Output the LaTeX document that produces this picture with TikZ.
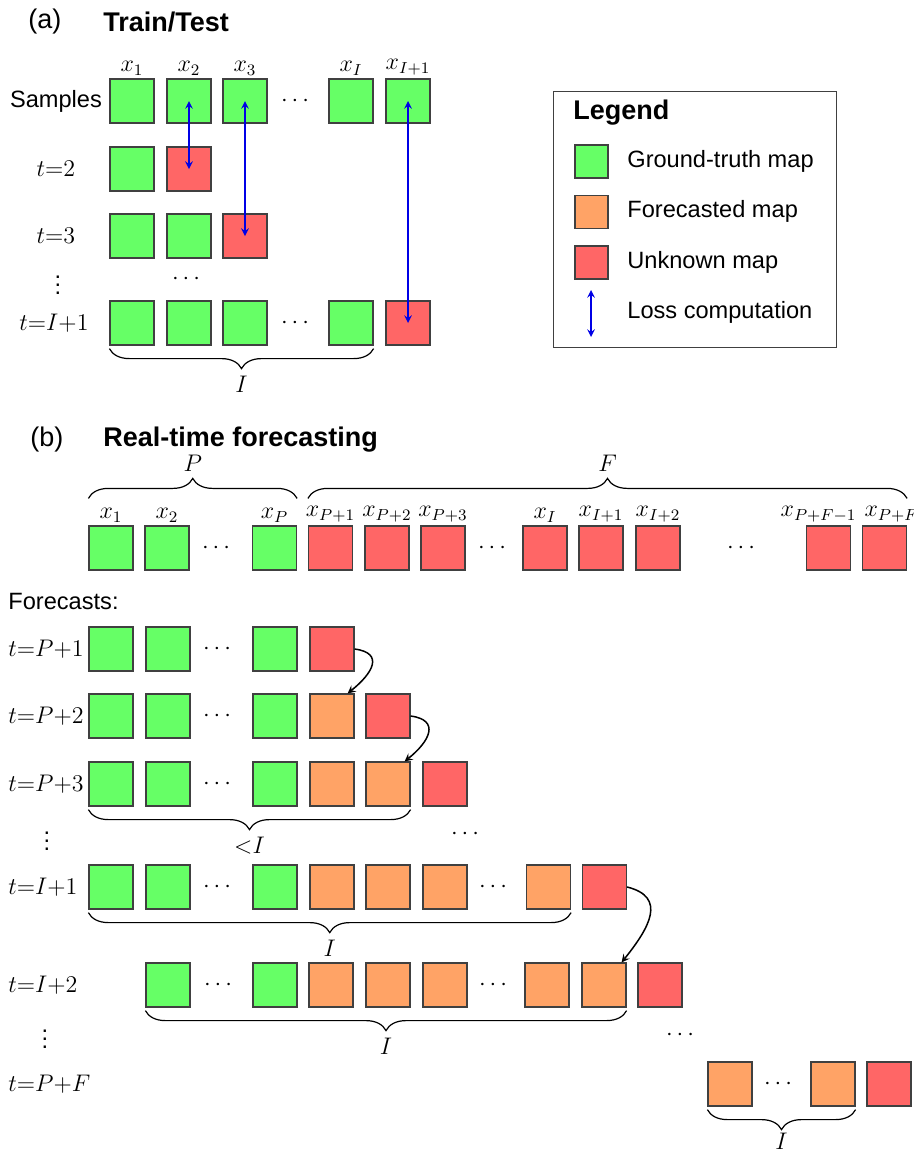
\documentclass[tikz,border=0pt]{standalone}
\usepackage[no-math]{fontspec}
\setmainfont{Liberation Sans}
\usepackage{amsmath}
\usetikzlibrary{decorations.pathreplacing,arrows}
\definecolor{gtgreen}{RGB}{102,255,102}
\definecolor{fcorange}{RGB}{255,163,102}
\definecolor{ukred}{RGB}{255,102,102}
\definecolor{edgegray}{RGB}{64,64,64}
\definecolor{lossblue}{RGB}{0,0,230}
\begin{document}
\begin{tikzpicture}[x=0.5pt,y=-0.5pt,font=\fontsize{11.8}{14}\selectfont,
	sq/.style={draw=edgegray,line width=0.6pt,minimum size=22pt,inner sep=0pt},
	gt/.style={sq,fill=gtgreen},fc/.style={sq,fill=fcorange},uk/.style={sq,fill=ukred},
	key/.style={draw=edgegray,line width=0.6pt,minimum size=16.5pt,inner sep=0pt},
	txt/.style={inner sep=0pt},
	ttl/.style={inner sep=0pt,font=\fontsize{13.5}{16}\selectfont\bfseries},
	loss/.style={lossblue,line width=0.7pt,stealth-stealth},
	flow/.style={black,line width=0.75pt,-stealth},
	brc/.style={decorate,decoration={brace,amplitude=10pt},line width=0.6pt},
	brcb/.style={decorate,decoration={brace,mirror,amplitude=10pt},line width=0.6pt},
	every label/.style={inner sep=1.5pt}]
\useasboundingbox (0,0) rectangle (914,1152);
\node(TA) [txt,anchor=west,font=\fontsize{13.5}{16}\selectfont] at (28,22) {(a)};
\node(TTA) [ttl,anchor=west] at (103,22) {Train/Test};
\node(LS) [txt] at (56,101) {Samples};
\node(L2) [txt] at (56,169) {$t{=}2$};
\node(L3) [txt] at (56,236) {$t{=}3$};
\node(LV) [txt] at (58,279) {$\vdots$};
\node(LI) [txt] at (54,323) {$t{=}I{+}1$};
\node(S1) [gt,label=above:$x_1$] at (132,101) {};
\node(S2) [gt,label=above:$x_2$] at (189,101) {};
\node(S3) [gt,label=above:$x_3$] at (245,101) {};
\node(SD) [txt] at (297,101) {$\cdots$};
\node(SI) [gt,label=above:$x_I$] at (351,101) {};
\node(SJ) [gt,label=above:$x_{I+1}$] at (408,101) {};
\node(R21) [gt] at (132,169) {};
\node(R22) [uk] at (189,169) {};
\node(R31) [gt] at (132,236) {};
\node(R32) [gt] at (189,236) {};
\node(R33) [uk] at (245,236) {};
\node(RD) [txt] at (188,279) {$\cdots$};
\node(RI1) [gt] at (132,323) {};
\node(RI2) [gt] at (189,323) {};
\node(RI3) [gt] at (245,323) {};
\node(RID) [txt] at (297,323) {$\cdots$};
\node(RII) [gt] at (351,323) {};
\node(RIJ) [uk] at (408,323) {};
\draw[loss] (S2.center) -- (R22.center);
\draw[loss] (S3.center) -- (R33.center);
\draw[loss] (SJ.center) -- (RIJ.center);
\draw[brcb] ([yshift=-1.5pt]RI1.south west) -- ([yshift=-1.5pt]RII.south east) node(BA) [txt,midway,below=13.5pt] {$I$};
\node(LEG) [draw=edgegray,line width=0.6pt,minimum width=141.5pt,minimum height=128pt,inner sep=0pt,anchor=north west] at (553,91) {};
\node(LT) [ttl,anchor=west] at (573,113) {Legend};
\node(K1) [key,fill=gtgreen] at (591.5,161.5) {};
\node(K1T) [txt,anchor=west] at (627,161) {Ground-truth map};
\node(K2) [key,fill=fcorange] at (591.5,212) {};
\node(K2T) [txt,anchor=west] at (627,211) {Forecasted map};
\node(K3) [key,fill=ukred] at (591.5,262.5) {};
\node(K3T) [txt,anchor=west] at (627,262) {Unknown map};
\coordinate(K4A) at (591,290);
\coordinate(K4B) at (591,337);
\draw[loss] (K4A) -- (K4B);
\node(K4T) [txt,anchor=west] at (627,312) {Loss computation};
\node(TB) [txt,anchor=west,font=\fontsize{13.5}{16}\selectfont] at (30,440) {(b)};
\node(TTB) [ttl,anchor=west] at (103,440) {Real-time forecasting};
\node(X1) [gt,label=above:$x_1$] at (111,548) {};
\node(X2) [gt,label=above:$x_2$] at (167,548) {};
\node(XD) [txt] at (218,548) {$\cdots$};
\node(XP) [gt,label=above:$x_P$] at (274.5,548) {};
\node(XA) [uk,label=above:$x_{P+1}$] at (330.5,548) {};
\node(XB) [uk,label=above:$x_{P+2}$] at (387,548) {};
\node(XC) [uk,label=above:$x_{P+3}$] at (443,548) {};
\node(XE) [txt] at (494,548) {$\cdots$};
\node(XI) [uk,label=above:$x_I$] at (545,548) {};
\node(XJ) [uk,label=above:$x_{I+1}$] at (601,548) {};
\node(XK) [uk,label=above:$x_{I+2}$] at (658,548) {};
\node(XF) [txt] at (743,548) {$\cdots$};
\node(XM) [uk,label={[xshift=-5pt]above:$x_{P+F-1}$}] at (828.5,548) {};
\node(XN) [uk,label={[xshift=3.5pt]above:$x_{P+F}$}] at (884.5,548) {};
\draw[brc] ([yshift=13.5pt]X1.north west) -- ([yshift=13.5pt]XP.north east) node(BP) [txt,midway,above=13pt] {$P$};
\draw[brc] ([yshift=13.5pt]XA.north west) -- ([yshift=13.5pt]XN.north east) node(BF) [txt,midway,above=13pt] {$F$};
\node(FC) [txt,anchor=west] at (8,601) {Forecasts:};
\node(M1) [txt,anchor=west] at (8,649) {$t{=}P{+}1$};
\node(M2) [txt,anchor=west] at (8,716) {$t{=}P{+}2$};
\node(M3) [txt,anchor=west] at (8,784) {$t{=}P{+}3$};
\node(MV1) [txt] at (47,835) {$\vdots$};
\node(M4) [txt,anchor=west] at (8,887) {$t{=}I{+}1$};
\node(M5) [txt,anchor=west] at (8,985) {$t{=}I{+}2$};
\node(MV2) [txt] at (45,1033) {$\vdots$};
\node(M6) [txt,anchor=west] at (8,1084) {$t{=}P{+}F$};
\node(F1a) [gt] at (111,649) {};
\node(F1b) [gt] at (168,649) {};
\node(F1D) [txt] at (219,649) {$\cdots$};
\node(F1c) [gt] at (275,649) {};
\node(F1d) [uk] at (332,649) {};
\node(F2a) [gt] at (111,716) {};
\node(F2b) [gt] at (168,716) {};
\node(F2D) [txt] at (219,716) {$\cdots$};
\node(F2c) [gt] at (275,716) {};
\node(F2d) [fc] at (332,716) {};
\node(F2e) [uk] at (388,716) {};
\node(F3a) [gt] at (111,784) {};
\node(F3b) [gt] at (168,784) {};
\node(F3D) [txt] at (219,784) {$\cdots$};
\node(F3c) [gt] at (275,784) {};
\node(F3d) [fc] at (332,784) {};
\node(F3e) [fc] at (388,784) {};
\node(F3f) [uk] at (445,784) {};
\node(G1) [txt] at (467,834) {$\cdots$};
\node(F4a) [gt] at (111,887) {};
\node(F4b) [gt] at (168,887) {};
\node(F4D) [txt] at (219,887) {$\cdots$};
\node(F4c) [gt] at (275,887) {};
\node(F4d) [fc] at (332,887) {};
\node(F4e) [fc] at (388,887) {};
\node(F4f) [fc] at (445,887) {};
\node(F4E) [txt] at (495,887) {$\cdots$};
\node(F4g) [fc] at (548.5,887) {};
\node(F4h) [uk] at (604.5,887) {};
\node(F5a) [gt] at (168,985) {};
\node(F5D) [txt] at (220,985) {$\cdots$};
\node(F5b) [gt] at (275,985) {};
\node(F5c) [fc] at (331,985) {};
\node(F5d) [fc] at (388,985) {};
\node(F5e) [fc] at (445,985) {};
\node(F5E) [txt] at (495,985) {$\cdots$};
\node(F5f) [fc] at (547,985) {};
\node(F5g) [fc] at (604,985) {};
\node(F5h) [uk] at (660,985) {};
\node(G2) [txt] at (682,1035) {$\cdots$};
\node(F6a) [fc] at (730,1084) {};
\node(F6D) [txt] at (780,1084) {$\cdots$};
\node(F6b) [fc] at (833,1084) {};
\node(F6c) [uk] at (889,1084) {};
\draw[flow] (F1d.east) .. controls +(30,4) and +(25,-20) .. ([xshift=-3.5pt]F2d.north east);
\draw[flow] (F2e.east) .. controls +(30,4) and +(25,-20) .. ([xshift=-3pt]F3e.north east);
\draw[flow] (F4h.east) .. controls +(40,10) and +(28,-35) .. ([xshift=-2.5pt]F5g.north east);
\draw[brcb] ([yshift=-1.5pt]F3a.south west) -- ([yshift=-1.5pt]F3e.south east) node(B3) [txt,midway,below=13.5pt] {${<}I$};
\draw[brcb] ([yshift=-1.5pt]F4a.south west) -- ([yshift=-1.5pt]F4g.south east) node(B4) [txt,midway,below=13.5pt] {$I$};
\draw[brcb] ([yshift=-1.5pt]F5a.south west) -- ([yshift=-1.5pt]F5g.south east) node(B5) [txt,midway,below=13.5pt] {$I$};
\draw[brcb] ([yshift=-1.5pt]F6a.south west) -- ([yshift=-1.5pt]F6b.south east) node(B6) [txt,midway,below=11.5pt] {$I$};
\end{tikzpicture}
\end{document}
